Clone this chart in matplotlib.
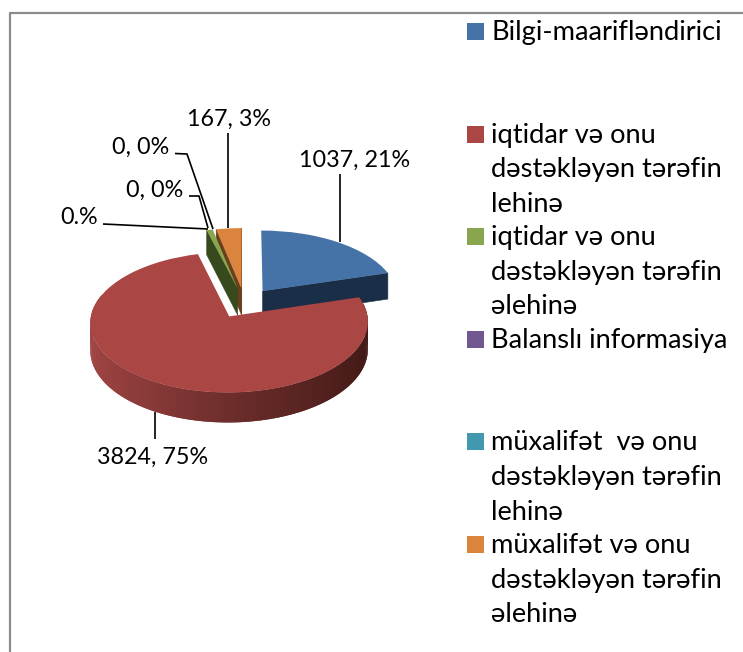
import numpy as np
import matplotlib
matplotlib.use("Agg")
import matplotlib.pyplot as plt
from matplotlib.colors import LinearSegmentedColormap
from matplotlib.patches import Polygon, Rectangle
from matplotlib.transforms import Transform

plt.rcParams["font.family"] = ["Lato", "Open Sans", "DejaVu Sans"]

# data
categories = [
    "Bilgi-maarifləndirici",
    "iqtidar və onu\ndəstəkləyən tərəfin\nlehinə",
    "iqtidar və onu\ndəstəkləyən tərəfin\nəlehinə",
    "Balanslı informasiya",
    "müxalifət  və onu\ndəstəkləyən tərəfin\nlehinə",
    "müxalifət və onu\ndəstəkləyən tərəfin\nəlehinə",
]
values = [1037, 3824, 40, 0, 0, 167]
value_labels = ["1037, 21%", "3824, 75%", "0.%", "0, 0%", "0, 0%", "167, 3%"]
colors = ["#4572A7", "#AA4643", "#89A54E", "#71588F", "#4198AF", "#DB843D"]
wall_colors = ["#1B2E48", "#451A18", "#374A1E", "#2D2339", "#1A3D46", "#6B3F1C"]

# pie placement on the picture, in pixels
CX, CY = 244.5, 303
RX, RY = 136, 67.4
TILT = 0.083
DEPTH = 27
LABEL_FONT = 16.8
LEGEND_FONT = 19.6


def project(xy):
    xy = np.asarray(xy, dtype=float)
    d = 1 + TILT * xy[..., 1]
    return np.stack([CX + RX * xy[..., 0] / d, CY - RY * xy[..., 1] / d], axis=-1)


def drop(xy):
    # same point, at the bottom of the pie
    xy = np.asarray(xy, dtype=float)
    out = project(xy)
    out[..., 1] += DEPTH / (1 + TILT * xy[..., 1])
    return out


class Tilted(Transform):
    input_dims = 2
    output_dims = 2

    def transform_non_affine(self, values):
        return project(values)


def rim_point(w, theta):
    t = np.radians(theta)
    return np.array([w.center[0] + w.r * np.cos(t), w.center[1] + w.r * np.sin(t)])


def add_wall(ax, w, theta, color, z):
    edge = rim_point(w, theta)
    pts = [project(w.center), project(edge), drop(edge), drop(w.center)]
    ax.add_patch(Polygon(pts, closed=True, fc=color, ec=color, lw=0.4, zorder=z))


fig = plt.figure(figsize=(7.43, 6.52), dpi=100)
ax = fig.add_axes([0, 0, 1, 1])

wedges, _ = ax.pie(
    values,
    colors=colors,
    explode=[0.225] * len(values),
    startangle=90,
    counterclock=False,
    wedgeprops={"linewidth": 0},
)
ax.set_aspect("auto")
ax.set_xlim(0, 743)
ax.set_ylim(652, 0)
ax.axis("off")

top_z = {0: 4, 1: 7, 2: 4, 3: 4, 4: 4, 5: 4}
for i, w in enumerate(wedges):
    w.set_transform(Tilted() + ax.transData)
    w.set_zorder(top_z[i])

# side walls that can be seen from the front
add_wall(ax, wedges[0], wedges[0].theta1, wall_colors[0], 3)
add_wall(ax, wedges[2], wedges[2].theta2, wall_colors[2], 3)
add_wall(ax, wedges[5], wedges[5].theta2, wall_colors[5], 2)
add_wall(ax, wedges[5], wedges[5].theta1, wall_colors[5], 2)

# front rim of the big slice, shaded left to right
# every strip runs on under the next one so no seams show
red = wedges[1]
shade = LinearSegmentedColormap.from_list("rim", ["#A04544", "#6E2E2C", "#431A17"])
angles = np.linspace(red.theta1, red.theta2, 240)
for a, b, c in zip(angles[:-2], angles[1:-1], angles[2:]):
    p, q = rim_point(red, a), rim_point(red, c)
    mid = rim_point(red, b)
    if mid[1] > red.center[1] + 0.3:
        continue
    pos = (mid[0] - (red.center[0] - 1)) / 2
    col = shade(np.clip(pos, 0, 1))
    ax.add_patch(Polygon([project(p), project(mid), project(q), drop(q), drop(mid), drop(p)],
                         closed=True, fc=col, ec="none", lw=0, zorder=5))

# leader lines and data labels
leaders = [
    ([340, 340], [174, 242]),
    ([155, 155], [412, 439]),
    ([103, 208], [224, 229]),
    ([189, 199, 208], [196, 196, 228]),
    ([175, 187, 213], [153.5, 154, 229]),
    ([227.5, 227.5], [133, 228]),
]
label_pos = [(354.5, 160), (152.5, 457), (79, 218), (155, 190), (141, 147), (229, 119)]
for (lx, ly), (tx, ty), lab in zip(leaders, label_pos, value_labels):
    ax.plot(lx, ly, color="black", lw=1.2, zorder=8, solid_capstyle="butt")
    ax.text(tx, ty, lab, fontsize=LABEL_FONT, ha="center", va="center", color="black")

# chart frame, only top and left show
ax.plot([10, 10, 743], [652, 13, 13], color="#8C8C8C", lw=1.6, zorder=1)

# legend
for i, (name, col) in enumerate(zip(categories, colors)):
    y0 = 31.5 + i * 102.6
    ax.add_patch(Rectangle((467, y0 - 8.5), 17, 17, fc=col, ec="none"))
    for j, line in enumerate(name.split("\n")):
        ax.text(491, y0 + 1 + j * 34.6, line, fontsize=LEGEND_FONT, ha="left", va="center", color="black")

fig.savefig("out.png", dpi=100)
